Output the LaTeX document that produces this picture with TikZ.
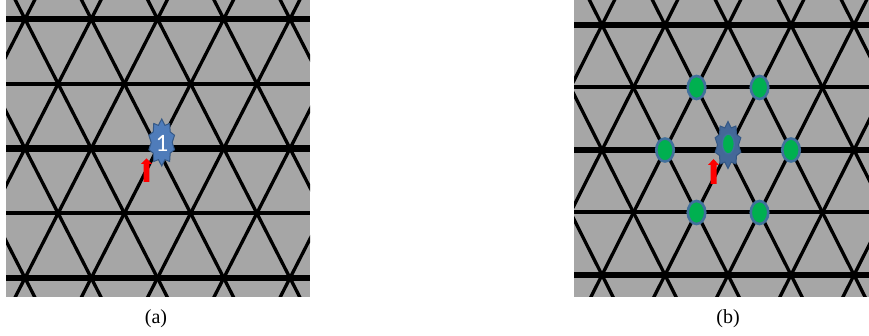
\documentclass[tikz,border=0pt]{standalone}
\usepackage{fontspec}
\setmainfont{Liberation Serif}
\newfontfamily\badgefont{Carlito}
\usepackage{tikz}
\usetikzlibrary{shapes.geometric}
\definecolor{LatticeGray}{RGB}{166,166,166}
\definecolor{BadgeBlueA}{RGB}{79,124,186}
\definecolor{BadgeBlueB}{RGB}{68,104,152}
\definecolor{BadgeEdge}{RGB}{52,88,134}
\definecolor{SiteGreen}{RGB}{0,176,80}
\definecolor{SiteEdge}{RGB}{65,113,156}

% left, right, x of first vertex, spacing, y of first row, row height
\newcommand{\trilattice}[6]{%
  \begin{scope}
    \clip (#1,0) rectangle (#2,297);
    \fill[LatticeGray] (#1,0) rectangle (#2,297);
    \foreach \k in {-4,...,8}
      \draw[diag] ({#3+\k*#4-#4/2},{#5-#6}) -- ({#3+\k*#4+5*#4/2},{#5+5*#6})
                  ({#3+\k*#4+#4/2},{#5-#6}) -- ({#3+\k*#4-5*#4/2},{#5+5*#6});
    \foreach \j/\w in {0/6.5,1/4,2/6.5,3/4,4/6.5}
      \draw[line width=\w pt] (#1,{#5+\j*#6}) -- (#2,{#5+\j*#6});
  \end{scope}}

% centre x, centre y, fill colour
\newcommand{\badgestar}[3]{%
  \filldraw[fill=#3, draw=BadgeEdge, line width=1pt]
    plot[samples at={0,...,19}, variable=\t]
      ({#1+(mod(\t,2)==0 ? 13.5 : 10.5)*cos(90+18*\t)},
       {#2-(mod(\t,2)==0 ? 23.5 : 18)*sin(90+18*\t)}) -- cycle;}

% tip x, tip y, head base y, bottom y, half shaft, half head
\newcommand{\uparrowmark}[6]{%
  \fill[red] ({#1-#5},#4) -- ({#1-#5},#3) -- ({#1-#6},#3) -- (#1,#2)
    -- ({#1+#6},#3) -- ({#1+#5},#3) -- ({#1+#5},#4) -- cycle;}

\begin{document}
\begin{tikzpicture}[x=1pt, y=-1pt,
    diag/.style={line width=3.3pt},
    site/.style={ellipse, fill=SiteGreen, draw=SiteEdge, line width=2.6pt,
                 minimum width=17.5pt, minimum height=23pt, inner sep=0pt},
    caption/.style={font=\fontsize{20}{24}\selectfont}]
  \useasboundingbox (0,0) rectangle (869,336);

  % (a)
  \trilattice{6}{310}{25}{66.25}{19}{64.75}
  \badgestar{161.7}{142.5}{BadgeBlueA}
  \node[text=white, font=\badgefont\fontsize{25}{25}\selectfont, inner sep=0pt]
    (one) at (162,143.5) {1};
  \uparrowmark{146.5}{158.3}{164}{182}{2.8}{5.5}
  \node[caption] (capa) at (156,319) {(a)};

  % (b)
  \trilattice{574}{869}{602}{63}{25}{62.5}
  \badgestar{728}{145}{BadgeBlueB}
  \node[site, minimum width=12pt, minimum height=20pt, line width=1.4pt]
    (centre) at (728.3,144) {};
  \node[site] (n1) at (696.5,87.5) {};
  \node[site] (n2) at (759.5,87.5) {};
  \node[site] (n3) at (665,150) {};
  \node[site] (n4) at (791,150) {};
  \node[site] (n5) at (696.5,212.5) {};
  \node[site] (n6) at (759.5,212.5) {};
  \uparrowmark{713.5}{159}{165}{184}{3}{5.5}
  \node[caption] (capb) at (728,319) {(b)};
\end{tikzpicture}
\end{document}
